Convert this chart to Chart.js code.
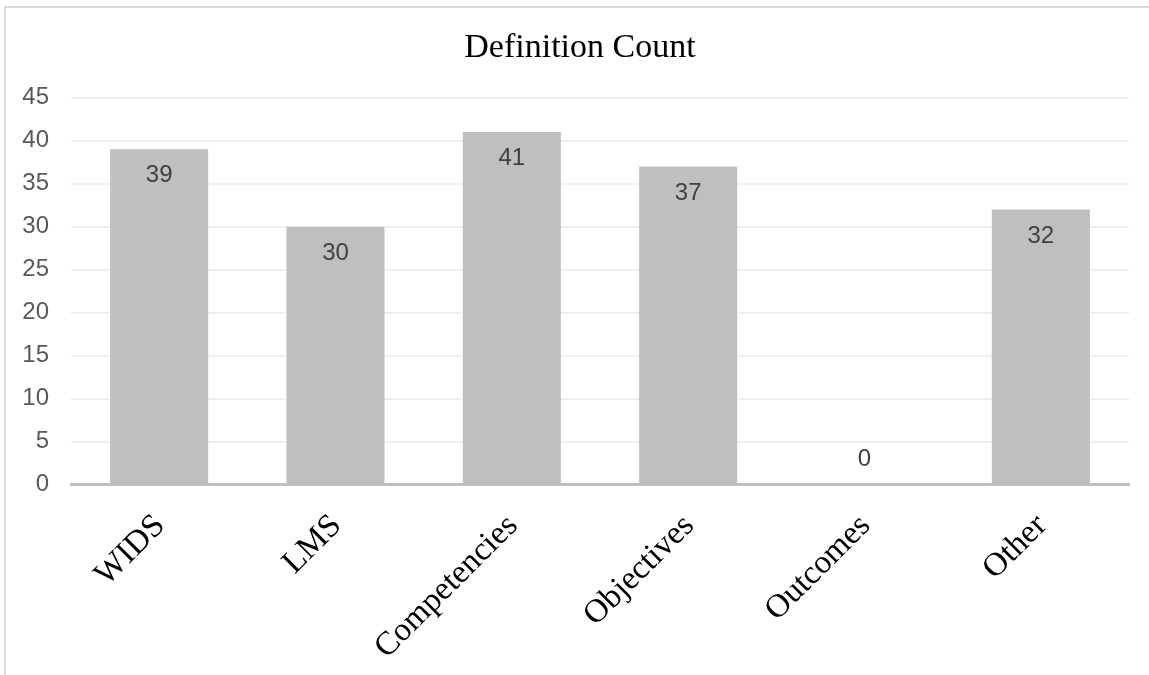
<!DOCTYPE html>
<html>
<head>
<meta charset="utf-8">
<script src="https://cdn.jsdelivr.net/npm/chart.js@4.4.1/dist/chart.umd.min.js"></script>
<style>
  html, body { margin: 0; padding: 0; background: #ffffff; overflow: hidden; }
  #frame {
    position: absolute; left: 4px; top: 6px;
    width: 1200px; height: 720px;
    border: 2px solid #d9d9d9; box-sizing: border-box;
  }
  #chart { position: absolute; left: 0; top: 0; }
</style>
</head>
<body>
<div id="frame"></div>
<canvas id="chart" width="1149" height="675"></canvas>
<script>
// Chart content
const chartTitle = 'Definition Count';
const categories = ['WIDS', 'LMS', 'Competencies', 'Objectives', 'Outcomes', 'Other'];
const counts = [39, 30, 41, 37, 0, 32];
const yMin = 0;
const yMax = 45;
const yStep = 5;

const SANS = '"Liberation Sans", Arial, sans-serif';
const SERIF = '"Liberation Serif", "Times New Roman", serif';

// Chart title, centred over the whole frame rather than the plot area
const frameTitle = {
  id: 'frameTitle',
  afterDraw(chart) {
    const ctx = chart.ctx;
    ctx.save();
    ctx.font = '34px ' + SERIF;
    ctx.fillStyle = '#000000';
    ctx.textAlign = 'center';
    ctx.textBaseline = 'alphabetic';
    ctx.fillText(chartTitle, 580, 57);
    ctx.restore();
  }
};

// Value labels placed just inside the top of each bar (above the axis for zero)
const valueLabels = {
  id: 'valueLabels',
  afterDraw(chart) {
    const ctx = chart.ctx;
    const meta = chart.getDatasetMeta(0);
    const values = chart.data.datasets[0].data;
    ctx.save();
    ctx.font = '24px ' + SANS;
    ctx.fillStyle = '#404040';
    ctx.textAlign = 'center';
    ctx.textBaseline = 'middle';
    meta.data.forEach((bar, i) => {
      const v = values[i];
      const y = v > 0 ? bar.y + 26.5 : bar.base - 25;
      ctx.fillText(String(v), bar.x, y);
    });
    ctx.restore();
  }
};

new Chart(document.getElementById('chart'), {
  type: 'bar',
  data: {
    labels: categories,
    datasets: [{
      data: counts,
      backgroundColor: '#bfbfbf',
      borderWidth: 0,
      categoryPercentage: 1,
      barPercentage: 0.556
    }]
  },
  options: {
    responsive: false,
    devicePixelRatio: 1,
    animation: false,
    layout: { padding: { left: 0, right: 20, top: 97.7, bottom: 0 } },
    plugins: {
      legend: { display: false },
      tooltip: { enabled: false },
      title: { display: false }
    },
    scales: {
      x: {
        grid: { display: false, drawTicks: false },
        border: { display: true, color: '#bfbfbf', width: 3 },
        ticks: {
          color: '#000000',
          font: { family: SERIF, size: 33 },
          minRotation: 45,
          maxRotation: 45,
          padding: 22,
          labelOffset: 1,
          autoSkip: false
        },
        afterFit(scale) { scale.height = 190.3; }
      },
      y: {
        min: yMin,
        max: yMax,
        z: 1,
        grid: {
          drawTicks: false,
          lineWidth: 2,
          color: (c) => (c.tick && c.tick.value === 0) ? 'rgba(0,0,0,0)' : 'rgba(220,220,220,0.45)'
        },
        border: { display: false },
        ticks: {
          stepSize: yStep,
          color: '#595959',
          font: { family: SANS, size: 24 },
          padding: 22
        },
        afterFit(scale) { scale.width = 71; }
      }
    }
  },
  plugins: [valueLabels, frameTitle]
});
</script>
</body>
</html>
